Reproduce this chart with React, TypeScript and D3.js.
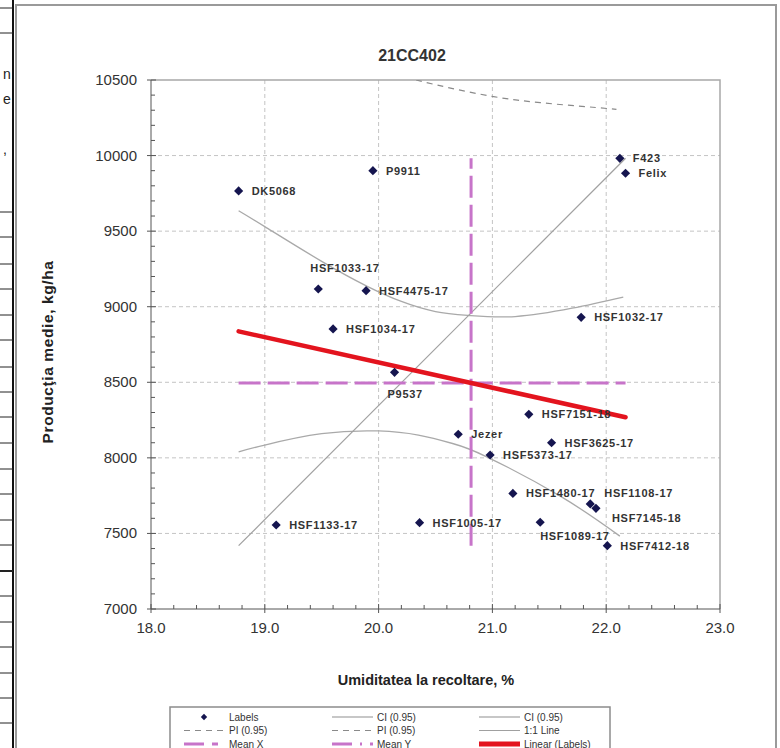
import { useEffect, useRef } from "react";
import * as d3 from "d3";

// hybrids, 21CC402 trial: harvest moisture (%) vs mean yield (kg/ha)
const varieties = [
  "DK5068", "P9911", "F423", "Felix", "HSF1033-17", "HSF4475-17", "HSF1034-17",
  "HSF1032-17", "P9537", "HSF7151-18", "Jezer", "HSF3625-17", "HSF5373-17",
  "HSF1480-17", "HSF1108-17", "HSF7145-18", "HSF1089-17", "HSF7412-18",
  "HSF1133-17", "HSF1005-17",
];
const moisture = [
  18.77, 19.95, 22.12, 22.17, 19.47, 19.89, 19.6, 21.78, 20.14, 21.32, 20.7,
  21.52, 20.98, 21.18, 21.86, 21.91, 21.42, 22.01, 19.1, 20.36,
];
const yieldKg = [
  9766, 9900, 9982, 9883, 9117, 9106, 8853, 8930, 8566, 8288, 8156, 8100, 8019,
  7765, 7695, 7666, 7574, 7419, 7556, 7571,
];

// confidence / prediction bands
const ciUpperX = [18.77, 19.0, 19.5, 19.9, 20.2, 20.5, 20.8, 21.2, 21.7, 22.15];
const ciUpperY = [9635, 9530, 9300, 9135, 9035, 8968, 8942, 8935, 8990, 9064];
const ciLowerX = [18.77, 19.0, 19.5, 20.0, 20.35, 20.65, 20.95, 21.6, 22.12];
const ciLowerY = [8040, 8085, 8160, 8178, 8150, 8095, 8007, 7745, 7482];
const piUpperX = [20.33, 20.6, 21.01, 21.42, 21.83, 22.09];
const piUpperY = [10500, 10452, 10390, 10350, 10323, 10306];

const xTicks = [18, 19, 20, 21, 22, 23];
const yTicks = [7000, 7500, 8000, 8500, 9000, 9500, 10000, 10500];

// label placement tweaks (px) where the default right-side spot collides
const labelNudge: Record<string, [number, number]> = {
  "HSF1033-17": [-8, -21],
  P9537: [-7, 22],
  "HSF1089-17": [0, 14],
  "HSF1108-17": [14, -11],
  "HSF7145-18": [16, 10],
};

const leftRuleYs = [8, 33, 212, 237, 264, 289, 315, 340, 367, 392, 417, 443, 469, 494, 520, 545, 571, 596, 622, 647, 673, 698, 723];

const FONT = "'Liberation Sans', Arial, sans-serif";
const MAGENTA = "#c774c9";
const RED = "#e3141e";
const NAVY = "#15154f";

export default function App(): JSX.Element {
  const ref = useRef<SVGSVGElement | null>(null);

  useEffect(() => {
    if (!ref.current) return;
    const svg = d3.select(ref.current);
    svg.selectAll("*").remove();

    const x = d3.scaleLinear().domain([18, 23]).range([151, 720]);
    const y = d3.scaleLinear().domain([7000, 10500]).range([609, 80]);

    // left strip: edge of a neighbouring table
    const strip = svg.append("g");
    strip.append("line").attr("x1", 13).attr("x2", 13).attr("y1", 0).attr("y2", 748)
      .attr("stroke", "#111").attr("stroke-width", 2);
    strip.selectAll("line.rule").data(leftRuleYs).join("line").attr("class", "rule")
      .attr("x1", 0).attr("x2", 13).attr("y1", (d) => d).attr("y2", (d) => d)
      .attr("stroke", "#222").attr("stroke-width", (d) => (d === 571 ? 2 : 1));
    strip.selectAll("text").data([["n", 79], ["e", 104], [",", 154]]).join("text")
      .attr("x", 3).attr("y", (d) => d[1] as number).text((d) => d[0] as string)
      .attr("font-family", FONT).attr("font-size", 14).attr("fill", "#222");

    // chart panel
    svg.append("rect").attr("x", 16).attr("y", 5).attr("width", 760).attr("height", 760)
      .attr("fill", "#fff").attr("stroke", "#9a9a9a").attr("stroke-width", 2);

    const defs = svg.append("defs");
    defs.append("clipPath").attr("id", "plot-clip").append("rect")
      .attr("x", 151).attr("y", 80).attr("width", 569).attr("height", 529);

    // grid
    const grid = svg.append("g").attr("stroke", "#c4c4c4").attr("stroke-dasharray", "4,3");
    grid.selectAll("line.gx").data(xTicks.slice(1, -1)).join("line").attr("class", "gx")
      .attr("x1", (d) => x(d)).attr("x2", (d) => x(d)).attr("y1", y(7000)).attr("y2", y(10500));
    grid.selectAll("line.gy").data(yTicks.slice(1, -1)).join("line").attr("class", "gy")
      .attr("y1", (d) => y(d)).attr("y2", (d) => y(d)).attr("x1", x(18)).attr("x2", x(23));

    // frame top/right
    svg.append("path")
      .attr("d", `M${x(18)},${y(10500)}H${x(23)}V${y(7000)}`)
      .attr("fill", "none").attr("stroke", "#a8a8a8").attr("stroke-width", 1.5);

    // axes
    const axisG = svg.append("g").attr("stroke", "#555").attr("stroke-width", 1);
    axisG.append("line").attr("x1", x(18)).attr("x2", x(18)).attr("y1", y(7000)).attr("y2", y(10500));
    axisG.append("line").attr("x1", x(18)).attr("x2", x(23)).attr("y1", y(7000)).attr("y2", y(7000));
    const xMinor = d3.range(18, 23.001, 0.2).filter((v) => Math.abs(v - Math.round(v)) > 0.01);
    const yMinor = d3.range(7000, 10501, 100).filter((v) => v % 500 !== 0);
    axisG.selectAll("line.xm").data(xMinor).join("line").attr("class", "xm")
      .attr("x1", (d) => x(d)).attr("x2", (d) => x(d)).attr("y1", y(7000)).attr("y2", y(7000) - 4);
    axisG.selectAll("line.ym").data(yMinor).join("line").attr("class", "ym")
      .attr("y1", (d) => y(d)).attr("y2", (d) => y(d)).attr("x1", x(18)).attr("x2", x(18) + 4);
    axisG.selectAll("line.xM").data(xTicks).join("line").attr("class", "xM")
      .attr("x1", (d) => x(d)).attr("x2", (d) => x(d)).attr("y1", y(7000) - 5).attr("y2", y(7000) + 4);
    axisG.selectAll("line.yM").data(yTicks).join("line").attr("class", "yM")
      .attr("y1", (d) => y(d)).attr("y2", (d) => y(d)).attr("x1", x(18) - 4).attr("x2", x(18) + 5);

    svg.append("g").selectAll("text").data(xTicks).join("text")
      .attr("x", (d) => x(d)).attr("y", y(7000) + 24).attr("text-anchor", "middle")
      .attr("font-family", FONT).attr("font-size", 15).attr("fill", "#333")
      .text((d) => d3.format(".1f")(d));
    svg.append("g").selectAll("text").data(yTicks).join("text")
      .attr("x", x(18) - 14).attr("y", (d) => y(d) + 5).attr("text-anchor", "end")
      .attr("font-family", FONT).attr("font-size", 15).attr("fill", "#333")
      .text((d) => String(d));

    // titles
    svg.append("text").attr("x", 412).attr("y", 61).attr("text-anchor", "middle")
      .attr("font-family", FONT).attr("font-size", 16).attr("font-weight", "bold").attr("fill", "#333")
      .text("21CC402");
    svg.append("text").attr("x", 426).attr("y", 685).attr("text-anchor", "middle")
      .attr("font-family", FONT).attr("font-size", 14.5).attr("font-weight", "bold").attr("fill", "#222")
      .text("Umiditatea la recoltare, %");
    svg.append("text").attr("transform", "translate(53,352) rotate(-90)").attr("text-anchor", "middle")
      .attr("font-family", FONT).attr("font-size", 15.5).attr("font-weight", "bold").attr("fill", "#222")
      .attr("letter-spacing", 0.6)
      .text("Producţia medie, kg/ha");

    const plot = svg.append("g").attr("clip-path", "url(#plot-clip)");
    const curve = d3.line<[number, number]>().x((d) => x(d[0])).y((d) => y(d[1])).curve(d3.curveNatural);

    plot.append("path").datum(d3.zip(ciUpperX, ciUpperY) as [number, number][])
      .attr("d", curve).attr("fill", "none").attr("stroke", "#a9a9a9").attr("stroke-width", 1.3);
    plot.append("path").datum(d3.zip(ciLowerX, ciLowerY) as [number, number][])
      .attr("d", curve).attr("fill", "none").attr("stroke", "#a9a9a9").attr("stroke-width", 1.3);
    plot.append("path").datum(d3.zip(piUpperX, piUpperY) as [number, number][])
      .attr("d", curve).attr("fill", "none").attr("stroke", "#8a8a8a").attr("stroke-width", 1.2)
      .attr("stroke-dasharray", "6,5");

    const [xMin, xMax] = d3.extent(moisture) as [number, number];
    const [yMin, yMax] = d3.extent(yieldKg) as [number, number];
    const xMean = d3.mean(moisture) as number;
    const yMean = d3.mean(yieldKg) as number;

    // 1:1 line between the data extremes
    plot.append("line").attr("x1", x(xMin)).attr("y1", y(yMin)).attr("x2", x(xMax)).attr("y2", y(yMax))
      .attr("stroke", "#a0a0a0").attr("stroke-width", 1.2);

    // means
    plot.append("line").attr("x1", x(xMean)).attr("x2", x(xMean)).attr("y1", y(yMin)).attr("y2", y(yMax))
      .attr("stroke", MAGENTA).attr("stroke-width", 3).attr("stroke-dasharray", "22,7");
    plot.append("line").attr("x1", x(xMin)).attr("x2", x(xMax)).attr("y1", y(yMean)).attr("y2", y(yMean))
      .attr("stroke", MAGENTA).attr("stroke-width", 3).attr("stroke-dasharray", "22,7");

    // least squares fit
    const pairs = d3.zip(moisture, yieldKg) as [number, number][];
    const sxy = d3.sum(pairs, (p) => (p[0] - xMean) * (p[1] - yMean));
    const sxx = d3.sum(pairs, (p) => (p[0] - xMean) ** 2);
    const slope = sxy / sxx;
    const intercept = yMean - slope * xMean;
    plot.append("line")
      .attr("x1", x(xMin)).attr("y1", y(intercept + slope * xMin))
      .attr("x2", x(xMax)).attr("y2", y(intercept + slope * xMax))
      .attr("stroke", RED).attr("stroke-width", 4.5).attr("stroke-linecap", "round");

    // points + labels (square symbol turned 45deg = squat diamond)
    const diamond = d3.symbol(d3.symbolSquare, 42);
    svg.append("g").selectAll("path").data(pairs).join("path")
      .attr("d", diamond).attr("transform", (d) => `translate(${x(d[0])},${y(d[1])}) rotate(45)`)
      .attr("fill", NAVY);
    svg.append("g").selectAll("text").data(varieties).join("text")
      .attr("x", (d, i) => x(moisture[i]) + (labelNudge[d]?.[0] ?? 13))
      .attr("y", (d, i) => y(yieldKg[i]) + (labelNudge[d]?.[1] ?? 0) + 4)
      .attr("font-family", FONT).attr("font-size", 11).attr("font-weight", "bold")
      .attr("letter-spacing", 0.7).attr("fill", "#333")
      .text((d) => d);

    // legend
    const lg = svg.append("g").attr("font-family", FONT).attr("font-size", 10).attr("fill", "#333");
    lg.append("rect").attr("x", 170).attr("y", 707).attr("width", 440).attr("height", 60)
      .attr("fill", "#fff").attr("stroke", "#8c8c8c").attr("stroke-width", 1.5);
    type Item = { label: string; col: number; row: number; kind: string };
    const items: Item[] = [
      { label: "Labels", col: 0, row: 0, kind: "dot" },
      { label: "PI (0.95)", col: 0, row: 1, kind: "pi" },
      { label: "Mean X", col: 0, row: 2, kind: "meanx" },
      { label: "CI (0.95)", col: 1, row: 0, kind: "ci" },
      { label: "PI (0.95)", col: 1, row: 1, kind: "pi" },
      { label: "Mean Y", col: 1, row: 2, kind: "meany" },
      { label: "CI (0.95)", col: 2, row: 0, kind: "ci" },
      { label: "1:1 Line", col: 2, row: 1, kind: "one" },
      { label: "Linear (Labels)", col: 2, row: 2, kind: "lin" },
    ];
    const colX = [184, 332, 479];
    items.forEach((it) => {
      const x0 = colX[it.col];
      const yy = 717 + it.row * 13.5;
      if (it.kind === "dot") {
        lg.append("path").attr("d", d3.symbol(d3.symbolSquare, 20))
          .attr("transform", `translate(${x0 + 20},${yy}) rotate(45)`).attr("fill", NAVY);
      } else {
        const ln = lg.append("line").attr("x1", x0).attr("x2", x0 + 41).attr("y1", yy).attr("y2", yy);
        if (it.kind === "pi") ln.attr("stroke", "#8a8a8a").attr("stroke-dasharray", "6,5");
        if (it.kind === "ci") ln.attr("stroke", "#b4b4b4").attr("stroke-width", 1.3);
        if (it.kind === "one") ln.attr("stroke", "#a0a0a0");
        if (it.kind === "meanx") ln.attr("stroke", MAGENTA).attr("stroke-width", 3).attr("stroke-dasharray", "20,8,6,8");
        if (it.kind === "meany") ln.attr("stroke", MAGENTA).attr("stroke-width", 3).attr("stroke-dasharray", "20,8,2,8");
        if (it.kind === "lin") ln.attr("stroke", RED).attr("stroke-width", 5);
      }
      lg.append("text").attr("x", x0 + 45).attr("y", yy + 3.5).text(it.label);
    });
  }, []);

  return (
    <div style={{ position: "fixed", left: 0, top: 0 }}>
      <svg ref={ref} width={780} height={748} style={{ display: "block", background: "#fff" }} />
    </div>
  );
}
